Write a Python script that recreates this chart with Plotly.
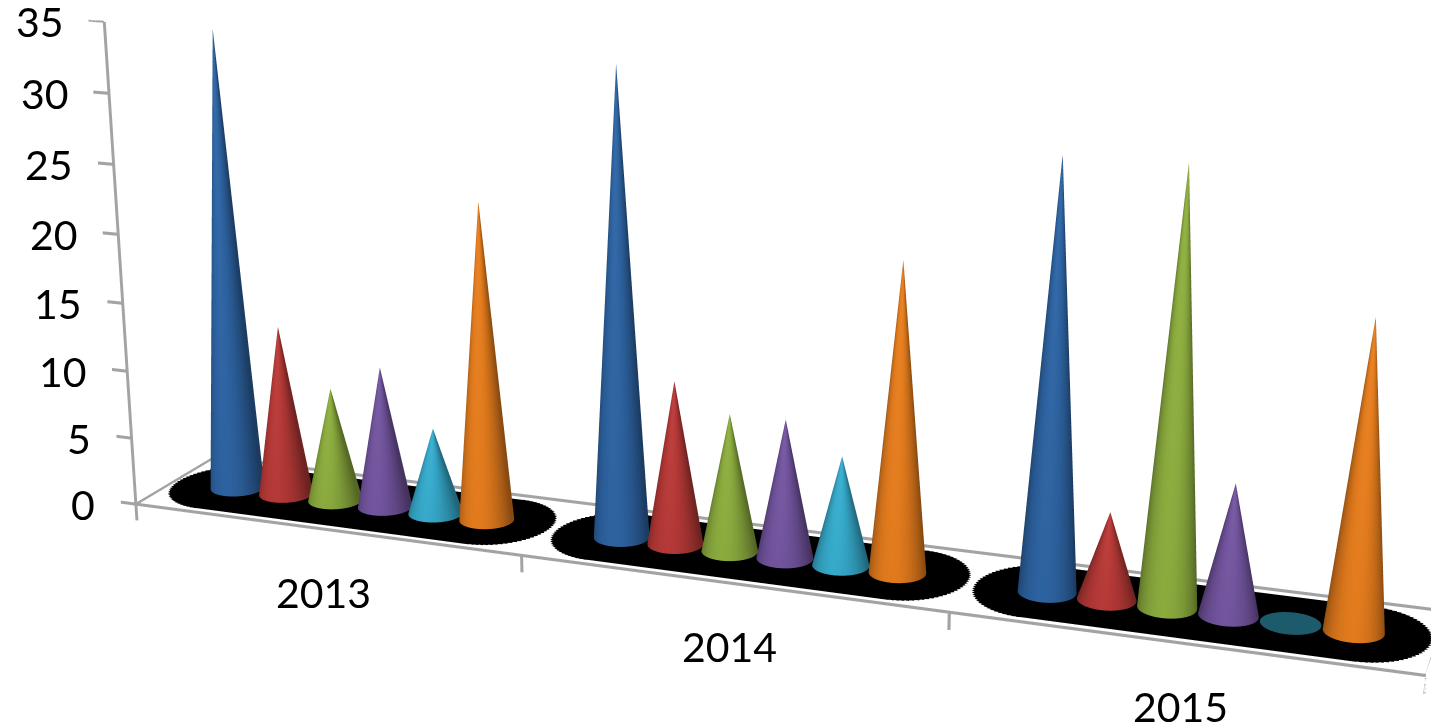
import numpy as np
import plotly.graph_objects as go

years = ["2013", "2014", "2015"]
blue = [33.9, 33.4, 29.6]
red = [12.7, 11.85, 6.15]
green = [8.5, 9.95, 29.7]
purple = [10.5, 10.0, 9.1]
cyan = [6.4, 7.85, 0.0]
orange = [23.2, 21.8, 20.9]
series = [blue, red, green, purple, cyan, orange]
colors = ["#2f66a6", "#bb3b39", "#8fb040", "#7657a3", "#38aed0", "#e97f1e"]
z_ticks = [0, 5, 10, 15, 20, 25, 30, 35]

X_RANGE = [-0.04, 3]
Z_RANGE = [-1.2, 35]
ASPECT = dict(x=3.04, y=0.37, z=1.155 * 36.2 / 35)
RX = 0.064
RY = RX / ASPECT["y"]
SPACING = 0.132
N = 64

# camera
F = 2800
P, YAW = np.radians(17), np.radians(20)
D = 6.16
S = F / D
right = np.array([np.cos(YAW), np.sin(YAW), 0])
up_c = np.array([-np.sin(YAW) * np.sin(P), np.cos(YAW) * np.sin(P), np.cos(P)])
view = np.array([np.sin(YAW) * np.cos(P), -np.cos(YAW) * np.cos(P), np.sin(P)])
shift = -(30.5 / S) * right - (53.5 / S) * up_c + np.array([0.02, 0, 0.0033])
eye = view * D + shift
peak = np.arctan2(-np.cos(YAW), np.sin(YAW)) - np.radians(16)


def shade(hex_color, f):
    r, g, b = int(hex_color[1:3], 16), int(hex_color[3:5], 16), int(hex_color[5:7], 16)
    if f <= 1:
        c = (r * f, g * f, b * f)
    else:
        t = f - 1
        c = (r + (255 - r) * t, g + (255 - g) * t, b + (255 - b) * t)
    return "rgb(%d,%d,%d)" % tuple(int(v) for v in c)


def lum(a):
    return 0.62 + 0.42 * max(0.0, np.cos(a - peak)) ** 1.3


def cone_arrays(values, idx, color):
    X, Y, Z, I, J, K, C = [], [], [], [], [], [], []
    for g, v in enumerate(values):
        cx = g + 0.5 + (idx - 2.5) * SPACING
        cy = 0.5
        if v == 0:
            base = len(X)
            X.append(cx); Y.append(cy); Z.append(0.06); C.append("#1c5a6c")
            for a in np.linspace(0, 2 * np.pi, N + 1):
                X.append(cx + RX * np.cos(a)); Y.append(cy + RY * np.sin(a)); Z.append(0.06); C.append("#1c5a6c")
            for s in range(N):
                I.append(base); J.append(base + s + 1); K.append(base + s + 2)
            continue
        for s in range(N):
            a0, a1 = 2 * np.pi * s / N, 2 * np.pi * (s + 1) / N
            b = len(X)
            X += [cx + RX * np.cos(a0), cx + RX * np.cos(a1), cx]
            Y += [cy + RY * np.sin(a0), cy + RY * np.sin(a1), cy]
            Z += [0.06, 0.06, v]
            f0, f1 = lum(a0), lum(a1)
            C += [shade(color, f0 * 0.93), shade(color, f1 * 0.93), shade(color, 0.5 * (f0 + f1))]
            I.append(b); J.append(b + 1); K.append(b + 2)
    return X, Y, Z, I, J, K, C


fig = go.Figure()
FLAT = dict(ambient=1, diffuse=0, specular=0, fresnel=0, roughness=1)

# black floor patches (stadium outlines with a rough edge)
for g in range(len(years)):
    m = 160
    t = np.linspace(0, 2 * np.pi, m + 1)
    rx_end = 0.14
    jag = 1 + 0.006 * ((np.arange(m + 1) % 2) * 2 - 1)
    px = g + 0.5 + (0.49 - rx_end) * np.sign(np.cos(t)) + rx_end * np.cos(t)
    py = 0.5 + 0.43 * np.sin(t)
    px = g + 0.5 + (px - g - 0.5) * jag
    py = 0.5 + (py - 0.5) * jag
    vx = np.r_[g + 0.5, px]
    vy = np.r_[0.5, py]
    fig.add_trace(go.Mesh3d(x=vx, y=vy, z=np.full_like(vx, 0.02), i=np.zeros(m, int),
                            j=np.arange(1, m + 1), k=np.arange(2, m + 2), color="black",
                            lighting=FLAT, hoverinfo="skip"))

for idx, (vals, col) in enumerate(zip(series, colors)):
    X, Y, Z, I, J, K, C = cone_arrays(vals, idx, col)
    fig.add_trace(go.Mesh3d(x=X, y=Y, z=Z, i=I, j=J, k=K, vertexcolor=C, flatshading=False,
                            lighting=FLAT))

# axis frame and tick marks (drawn twice, offset a hair, for a 2px line)
axis_line = dict(color="#a3a3a3", width=4)
for dx, dz in [(0, 0), (0.0025, 0.08)]:
    fig.add_trace(go.Scatter3d(x=np.array([0, 0, 3, 3, 0, 0]) + dx, y=[0, 0, 0, 1, 1, 0],
                               z=np.array([35, 0, 0, 0, 0, 0]) + dz, mode="lines",
                               line=axis_line, hoverinfo="skip"))
    for v in z_ticks:
        fig.add_trace(go.Scatter3d(x=[0, X_RANGE[0]], y=[0, 0], z=[v + dz, v + dz], mode="lines",
                                   line=axis_line, hoverinfo="skip"))
    for g in range(len(years) + 1):
        fig.add_trace(go.Scatter3d(x=[g + dx, g + dx], y=[0, 0], z=[0, Z_RANGE[0]], mode="lines",
                                   line=axis_line, hoverinfo="skip"))

axis_common = dict(showgrid=False, showbackground=False, zeroline=False, showspikes=False,
                   showline=False, title="", showticklabels=False, ticks="")

font = dict(family="Lato", size=41, color="black")
annotations = [dict(x=0, y=0, z=v, text=str(v), showarrow=False, xanchor="right", yanchor="middle",
                    xshift=-38, font=font) for v in z_ticks]
annotations += [dict(x=g + 0.5, y=0, z=0, text=yr, showarrow=False, xanchor="center", yanchor="middle",
                     yshift=-63, font=font) for g, yr in enumerate(years)]

fig.update_layout(
    width=1439, height=724, margin=dict(l=0, r=0, t=0, b=0),
    paper_bgcolor="white", showlegend=False,
    scene=dict(
        domain=dict(x=[0, 1], y=[0, 1]),
        aspectmode="manual", aspectratio=ASPECT,
        xaxis=dict(axis_common, range=X_RANGE),
        yaxis=dict(axis_common, range=[0, 1]),
        zaxis=dict(axis_common, range=Z_RANGE),
        annotations=annotations,
        camera=dict(eye=dict(x=eye[0], y=eye[1], z=eye[2]),
                    center=dict(x=shift[0], y=shift[1], z=shift[2]),
                    up=dict(x=0, y=0, z=1), projection=dict(type="perspective")),
    ),
)

post = """
var gd = document.getElementById('{plot_id}');
function narrow(){ var s = gd._fullLayout && gd._fullLayout.scene && gd._fullLayout.scene._scene;
 if(s && s.glplot){ s.glplot.fovy = 2*Math.atan(362/%d); s.glplot.redraw(); } else setTimeout(narrow, 50); }
narrow();
""" % F
fig.write_html("out.html", config=dict(displayModeBar=False), post_script=post)
